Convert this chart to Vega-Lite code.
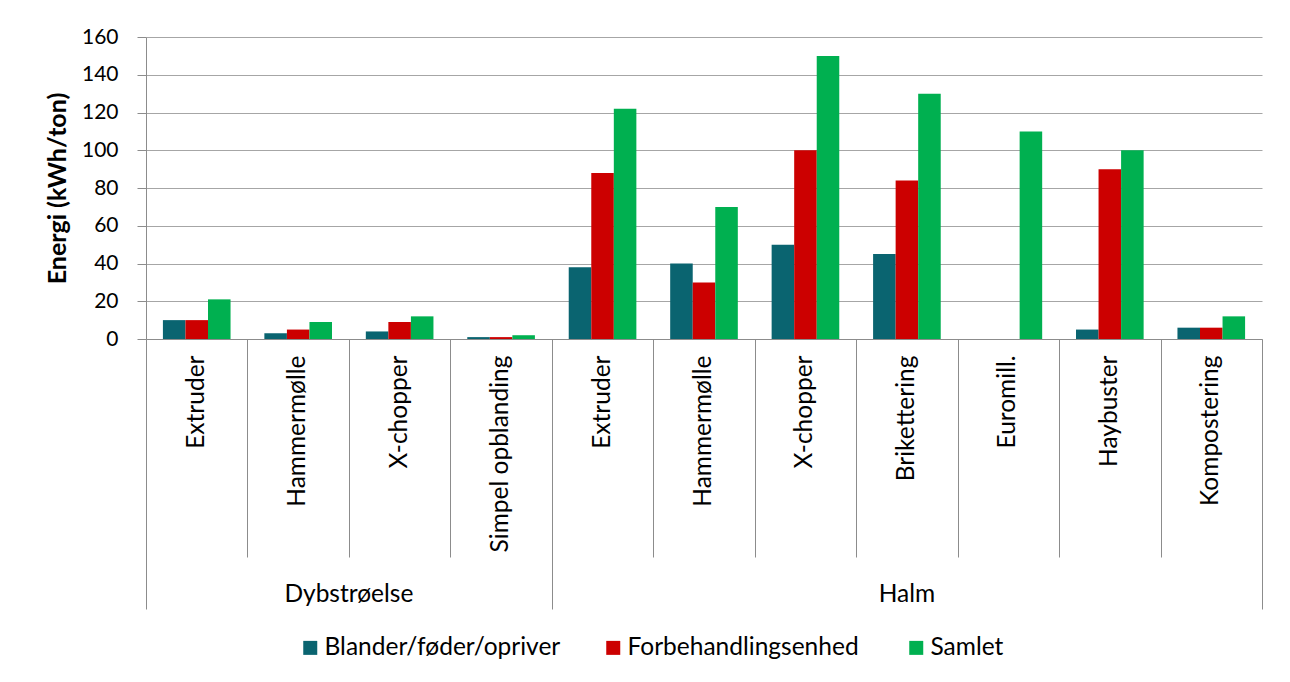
{
  "$schema": "https://vega.github.io/schema/vega-lite/v6.json",
  "width": 1116,
  "height": 302,
  "autosize": "none",
  "padding": {"left": 146, "top": 37, "right": 28, "bottom": 343},
  "background": "#ffffff",
  "config": {
    "font": "Lato",
    "view": {"stroke": null},
    "axis": {"labelColor": "#000000", "titleColor": "#000000", "labelFont": "Lato", "titleFont": "Lato"}
  },
  "data": {
    "values": [
      {"k": "Dybstrøelse|Extruder", "s": "Blander/føder/opriver", "v": 10},
      {"k": "Dybstrøelse|Extruder", "s": "Forbehandlingsenhed", "v": 10},
      {"k": "Dybstrøelse|Extruder", "s": "Samlet", "v": 21},
      {"k": "Dybstrøelse|Hammermølle", "s": "Blander/føder/opriver", "v": 3},
      {"k": "Dybstrøelse|Hammermølle", "s": "Forbehandlingsenhed", "v": 5},
      {"k": "Dybstrøelse|Hammermølle", "s": "Samlet", "v": 9},
      {"k": "Dybstrøelse|X-chopper", "s": "Blander/føder/opriver", "v": 4},
      {"k": "Dybstrøelse|X-chopper", "s": "Forbehandlingsenhed", "v": 9},
      {"k": "Dybstrøelse|X-chopper", "s": "Samlet", "v": 12},
      {"k": "Dybstrøelse|Simpel opblanding", "s": "Blander/føder/opriver", "v": 1},
      {"k": "Dybstrøelse|Simpel opblanding", "s": "Forbehandlingsenhed", "v": 1},
      {"k": "Dybstrøelse|Simpel opblanding", "s": "Samlet", "v": 2},
      {"k": "Halm|Extruder", "s": "Blander/føder/opriver", "v": 38},
      {"k": "Halm|Extruder", "s": "Forbehandlingsenhed", "v": 88},
      {"k": "Halm|Extruder", "s": "Samlet", "v": 122},
      {"k": "Halm|Hammermølle", "s": "Blander/føder/opriver", "v": 40},
      {"k": "Halm|Hammermølle", "s": "Forbehandlingsenhed", "v": 30},
      {"k": "Halm|Hammermølle", "s": "Samlet", "v": 70},
      {"k": "Halm|X-chopper", "s": "Blander/føder/opriver", "v": 50},
      {"k": "Halm|X-chopper", "s": "Forbehandlingsenhed", "v": 100},
      {"k": "Halm|X-chopper", "s": "Samlet", "v": 150},
      {"k": "Halm|Brikettering", "s": "Blander/føder/opriver", "v": 45},
      {"k": "Halm|Brikettering", "s": "Forbehandlingsenhed", "v": 84},
      {"k": "Halm|Brikettering", "s": "Samlet", "v": 130},
      {"k": "Halm|Euromill.", "s": "Samlet", "v": 110},
      {"k": "Halm|Haybuster", "s": "Blander/føder/opriver", "v": 5},
      {"k": "Halm|Haybuster", "s": "Forbehandlingsenhed", "v": 90},
      {"k": "Halm|Haybuster", "s": "Samlet", "v": 100},
      {"k": "Halm|Kompostering", "s": "Blander/føder/opriver", "v": 6},
      {"k": "Halm|Kompostering", "s": "Forbehandlingsenhed", "v": 6},
      {"k": "Halm|Kompostering", "s": "Samlet", "v": 12}
    ]
  },
  "layer": [
    {
      "mark": {"type": "bar"},
      "encoding": {
        "x": {
          "field": "k",
          "type": "nominal",
          "sort": ["Dybstrøelse|Extruder", "Dybstrøelse|Hammermølle", "Dybstrøelse|X-chopper", "Dybstrøelse|Simpel opblanding", "Halm|Extruder", "Halm|Hammermølle", "Halm|X-chopper", "Halm|Brikettering", "Halm|Euromill.", "Halm|Haybuster", "Halm|Kompostering"],
          "scale": {"paddingInner": 0, "paddingOuter": 0},
          "axis": {
            "orient": "bottom",
            "title": null,
            "ticks": false,
            "domain": true,
            "domainColor": "#8c8c8c",
            "domainWidth": 1,
            "grid": false,
            "labelAngle": -90,
            "labelAlign": "right",
            "labelBaseline": "middle",
            "labelPadding": 16,
            "labelFontSize": 24.5,
            "labelLimit": 0,
            "labelOverlap": false,
            "labelExpr": "split(datum.value, '|')[1]"
          }
        },
        "xOffset": {
          "field": "s",
          "type": "nominal",
          "sort": ["Blander/føder/opriver", "Forbehandlingsenhed", "Samlet"],
          "scale": {"paddingInner": 0, "paddingOuter": 0.75}
        },
        "y": {
          "field": "v",
          "type": "quantitative",
          "scale": {"domain": [0, 160], "nice": false},
          "axis": {
            "title": "Energi (kWh/ton)",
            "values": [0, 20, 40, 60, 80, 100, 120, 140, 160],
            "grid": true,
            "gridColor": "#a6a6a6",
            "gridWidth": 1,
            "domain": true,
            "domainColor": "#8c8c8c",
            "tickColor": "#8c8c8c",
            "tickSize": 9,
            "labelPadding": 19,
            "labelFontSize": 21,
            "titleFontSize": 25,
            "titleFontWeight": "bold",
            "titlePadding": 11
          }
        },
        "color": {
          "field": "s",
          "type": "nominal",
          "sort": ["Blander/føder/opriver", "Forbehandlingsenhed", "Samlet"],
          "scale": {"domain": ["Blander/føder/opriver", "Forbehandlingsenhed", "Samlet"], "range": ["#0a6470", "#cc0000", "#00b050"]},
          "legend": {
            "title": null,
            "orient": "none",
            "direction": "horizontal",
            "columns": 3,
            "gridAlign": "all",
            "legendX": 152,
            "legendY": 598.5,
            "symbolType": "square",
            "symbolSize": 196,
            "symbolStrokeWidth": 0,
            "labelOffset": 2,
            "labelFontSize": 24.5,
            "labelFont": "Lato",
            "labelColor": "#000000",
            "labelLimit": 0,
            "columnPadding": 40
          }
        }
      }
    },
    {
      "mark": {"type": "rule", "opacity": 0},
      "encoding": {
        "x": {
          "field": "k",
          "type": "nominal",
          "sort": ["Dybstrøelse|Extruder", "Dybstrøelse|Hammermølle", "Dybstrøelse|X-chopper", "Dybstrøelse|Simpel opblanding", "Halm|Extruder", "Halm|Hammermølle", "Halm|X-chopper", "Halm|Brikettering", "Halm|Euromill.", "Halm|Haybuster", "Halm|Kompostering"],
          "axis": {
            "orient": "bottom",
            "title": null,
            "labels": false,
            "domain": false,
            "grid": false,
            "ticks": true,
            "tickBand": "extent",
            "tickColor": "#8c8c8c",
            "tickWidth": 1,
            "tickSize": {
              "condition": {"test": "datum.extra || datum.value === 'Dybstrøelse|Simpel opblanding' || datum.value === 'Halm|Kompostering'", "value": 270},
              "value": 218
            }
          }
        }
      }
    },
    {
      "mark": {"type": "rule", "opacity": 0},
      "encoding": {
        "x": {
          "field": "k",
          "type": "nominal",
          "sort": ["Dybstrøelse|Extruder", "Dybstrøelse|Hammermølle", "Dybstrøelse|X-chopper", "Dybstrøelse|Simpel opblanding", "Halm|Extruder", "Halm|Hammermølle", "Halm|X-chopper", "Halm|Brikettering", "Halm|Euromill.", "Halm|Haybuster", "Halm|Kompostering"],
          "axis": {
            "orient": "bottom",
            "title": null,
            "values": ["Dybstrøelse|Hammermølle", "Halm|Brikettering"],
            "domain": false,
            "grid": false,
            "ticks": false,
            "labelAngle": 0,
            "labelAlign": "center",
            "labelBaseline": "alphabetic",
            "labelPadding": 262,
            "labelFontSize": 24.5,
            "labelOverlap": false,
            "labelExpr": "split(datum.value, '|')[0]",
            "labelOffset": {
              "condition": {"test": "datum.value === 'Dybstrøelse|Hammermølle'", "value": 50.7},
              "value": 0
            }
          }
        }
      }
    }
  ],
  "resolve": {"axis": {"x": "independent"}}
}
